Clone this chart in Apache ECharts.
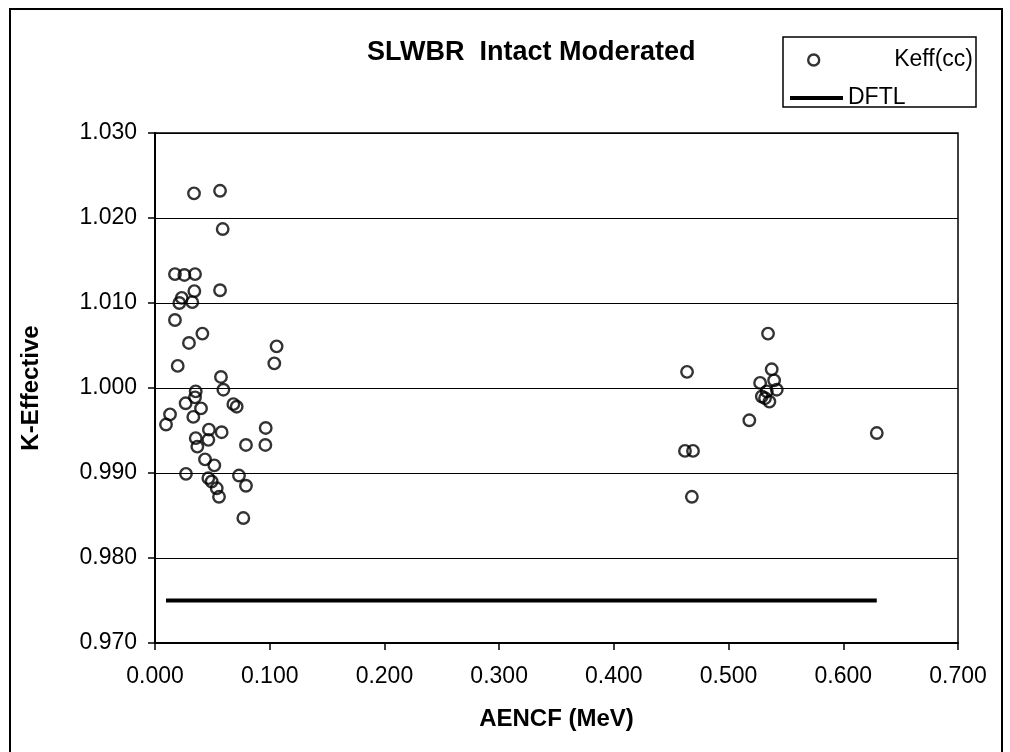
<!DOCTYPE html>
<html>
<head>
<meta charset="utf-8">
<script src="https://cdn.jsdelivr.net/npm/echarts@6/dist/echarts.min.js"></script>
<style>html,body{margin:0;padding:0;background:#fff}#c{width:1010px;height:752px}</style>
</head>
<body>
<div id="c"></div>
<script>
const keffX = [0.034,0.0567,0.059,0.0174,0.0256,0.0349,0.0343,0.0567,0.0233,0.0212,0.0325,0.0174,0.0413,0.0296,0.106,0.104,0.0198,0.0575,0.0355,0.0596,0.0349,0.0267,0.0683,0.0712,0.0401,0.0131,0.0334,0.0096,0.0965,0.047,0.0581,0.0355,0.0465,0.0369,0.0793,0.0962,0.0436,0.0517,0.027,0.0732,0.0465,0.0494,0.0793,0.0538,0.0558,0.077,
  0.4638,0.462,0.469,0.468,0.5344,0.5376,0.5397,0.5275,0.542,0.5333,0.529,0.5318,0.5356,0.5181,0.6292];
const keffY = [1.0229,1.0232,1.0187,1.0134,1.0133,1.0134,1.0114,1.0115,1.0106,1.0100,1.0101,1.0080,1.0064,1.0053,1.0049,1.0029,1.0026,1.0013,0.9996,0.9998,0.9989,0.9982,0.9981,0.9978,0.9976,0.9969,0.9966,0.9957,0.9953,0.9951,0.9948,0.9941,0.9939,0.9931,0.9933,0.9933,0.9916,0.9909,0.9899,0.9897,0.9894,0.9890,0.9885,0.9882,0.9872,0.9847,
  1.0019,0.9926,0.9926,0.9872,1.0064,1.0022,1.0009,1.0006,0.9998,0.9996,0.9990,0.9988,0.9984,0.9962,0.9947];
const dftlX = [0.0096, 0.6292];
const dftlY = [0.975, 0.975];
const xTicks = [0, 0.7, 0.1];
const yTicks = [0.970, 1.030, 0.010];

const FONT = 'Liberation Sans, Arial, sans-serif';
const chart = echarts.init(document.getElementById('c'));
chart.setOption({
  animation: false,
  backgroundColor: '#fff',
  title: {
    text: 'SLWBR  Intact Moderated',
    left: 362, top: 34,
    textStyle: {fontFamily: FONT, fontSize: 27, fontWeight: 'bold', color: '#000'}
  },
  graphic: [
    {type: 'rect', shape: {x: 10, y: 9, width: 992, height: 780}, style: {fill: 'none', stroke: '#000', lineWidth: 2}, silent: true},
    {type: 'rect', shape: {x: 783, y: 37, width: 193, height: 70}, style: {fill: '#fff', stroke: '#000', lineWidth: 1.5}, silent: true, z: 5}
  ],
  legend: [
    {data: [{name: 'Keff(cc)', icon: 'circle'}], left: 807, top: 48, padding: 0, itemWidth: 11, itemHeight: 11, z: 10,
     itemStyle: {color: '#fff', borderColor: '#000', borderWidth: 2.4},
     textStyle: {fontFamily: FONT, fontSize: 23, color: '#000', lineHeight: 24, padding: [0, 0, 0, 70]}},
    {data: [{name: 'DFTL', icon: 'rect'}], left: 790, top: 86, padding: 0, itemWidth: 53, itemHeight: 4, z: 10,
     itemStyle: {color: '#000'},
     textStyle: {fontFamily: FONT, fontSize: 23, color: '#000', lineHeight: 24}}
  ],
  grid: {left: 155, right: 52, top: 133, bottom: 109, show: true, borderColor: '#000', borderWidth: 1.5, backgroundColor: '#fff'},
  xAxis: {
    type: 'value', min: xTicks[0], max: xTicks[1], interval: xTicks[2],
    name: 'AENCF (MeV)', nameLocation: 'middle', nameGap: 64,
    nameTextStyle: {fontFamily: FONT, fontSize: 24, fontWeight: 'bold', color: '#000'},
    axisLine: {lineStyle: {color: '#000', width: 2}},
    axisTick: {show: true, inside: false, length: 7, lineStyle: {color: '#000', width: 1.5}},
    axisLabel: {formatter: v => v.toFixed(3), margin: 22, fontFamily: FONT, fontSize: 23, color: '#000'},
    splitLine: {show: false}
  },
  yAxis: {
    type: 'value', min: yTicks[0], max: yTicks[1], interval: yTicks[2],
    name: 'K-Effective', nameLocation: 'middle', nameGap: 112, nameRotate: 90,
    nameTextStyle: {fontFamily: FONT, fontSize: 24, fontWeight: 'bold', color: '#000'},
    axisLine: {show: true, lineStyle: {color: '#000', width: 2}},
    axisTick: {show: true, inside: false, length: 7, lineStyle: {color: '#000', width: 1.5}},
    axisLabel: {formatter: v => v.toFixed(3), margin: 18, fontFamily: FONT, fontSize: 23, color: '#000'},
    splitLine: {show: true, lineStyle: {color: '#000', width: 1.2}}
  },
  series: [
    {
      name: 'Keff(cc)', type: 'scatter', symbol: 'circle', symbolSize: 11.5, z: 4,
      itemStyle: {color: 'rgba(255,255,255,0)', borderColor: '#000', borderWidth: 2.4},
      data: keffX.map((x, i) => [x, keffY[i]])
    },
    {
      name: 'DFTL', type: 'line', showSymbol: false, symbol: 'none', z: 3,
      lineStyle: {color: '#000', width: 4},
      itemStyle: {color: '#000'},
      data: dftlX.map((x, i) => [x, dftlY[i]])
    }
  ]
});
</script>
</body>
</html>
